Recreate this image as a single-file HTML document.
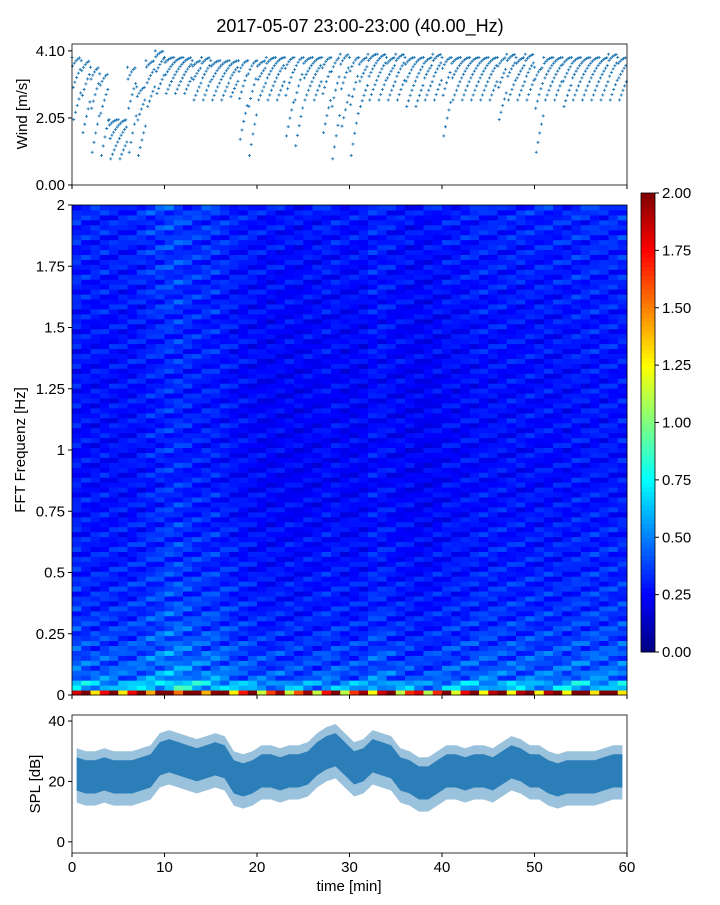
<!DOCTYPE html>
<html><head><meta charset="utf-8">
<style>
body{margin:0;background:#fff;font-family:"Liberation Sans",sans-serif;}
svg text{font-family:"Liberation Sans",sans-serif;fill:#000;}
</style></head>
<body>
<svg id="chart" width="720" height="900">
<text x="360" y="32" font-size="18" text-anchor="middle">2017-05-07 23:00-23:00 (40.00_Hz)</text>
<g id="wind"></g>
<g id="spec"></g>
<g id="cbar"></g>
<g id="spl"></g>
</svg>
<script>
const minutes=[...Array(60).keys()];
const windHi=[3.9,3.8,3.6,3.4,2.0,2.0,3.6,3.0,3.8,4.1,3.9,3.9,3.9,3.8,3.9,3.8,3.8,3.8,3.8,3.8,3.8,3.9,3.9,3.9,3.9,3.9,3.9,3.9,3.9,4.0,3.9,3.9,4.0,4.0,3.9,4.0,3.9,3.9,3.9,4.0,3.9,3.9,3.9,3.9,3.9,3.9,3.9,4.0,3.9,4.0,3.6,3.9,3.9,3.9,3.9,3.9,3.9,3.9,4.0,3.9];
const windLo=[2.0,1.6,1.0,0.9,0.8,0.8,1.0,0.9,2.4,2.8,2.8,2.8,2.8,2.6,2.6,2.6,2.6,2.7,1.4,0.9,2.6,2.6,2.6,1.5,1.2,2.6,2.6,1.6,0.8,1.8,0.9,2.4,2.6,2.6,2.6,2.6,2.4,2.4,2.6,2.6,1.5,2.6,2.6,2.6,2.6,2.6,2.0,2.6,2.6,2.6,1.0,2.6,2.6,2.4,2.6,2.6,2.6,2.6,2.6,2.6];
const splMid=[23,22,22,23,22,22,22,23,24,28,29,28,27,26,27,28,27,22,21,22,24,24,23,24,24,25,28,30,31,28,25,26,29,28,27,23,22,20,20,22,24,24,23,24,24,23,25,27,26,24,24,22,21,22,22,22,22,23,24,24];
const splHi=splMid.map(v=>v+8);
const splLo=splMid.map(v=>v-10);
const freqProfile=[1.75,0.6,0.45,0.42,0.4,0.38,0.36,0.35,0.34,0.33,0.32,0.32,0.31,0.3,0.3,0.3,0.29,0.29,0.28,0.28,0.28,0.27,0.27,0.27,0.27,0.27,0.27,0.27,0.27,0.27,0.27,0.27,0.27,0.27,0.28,0.28,0.28,0.28,0.28,0.29,0.29,0.29,0.3,0.3,0.3,0.3,0.31,0.31,0.31,0.32];
const timeProfile=[1.05,1.0,1.0,1.0,1.0,1.0,1.0,1.05,1.1,1.15,1.2,1.2,1.15,1.1,1.1,1.1,1.05,1.0,0.95,0.95,0.9,0.9,0.9,0.9,0.88,0.9,0.9,0.95,0.95,0.9,0.9,0.9,1.0,1.0,0.95,0.9,0.9,0.85,0.88,0.9,0.95,0.95,0.95,1.0,1.0,1.0,1.0,1.0,1.0,1.0,1.0,1.0,1.0,1.0,1.05,1.05,1.05,1.05,1.05,1.05];
const windTicks=[0,2.05,4.10], specTicks=[0,0.25,0.5,0.75,1,1.25,1.5,1.75,2], cbTicks=[0,0.25,0.5,0.75,1,1.25,1.5,1.75,2], splTicks=[0,20,40], xTicks=[0,10,20,30,40,50,60];

const NS="http://www.w3.org/2000/svg";
function mk(p,t,a){const e=document.createElementNS(NS,t);for(const k in a)e.setAttribute(k,a[k]);p.appendChild(e);return e;}
const X0=72,X1=627;
const xs=m=>X0+(X1-X0)*m/60;
function jet(v){const x=Math.max(0,Math.min(1,v/2));const c=t=>Math.round(255*Math.max(0,Math.min(1,1.5-Math.abs(4*x-t))));return `rgb(${c(3)},${c(2)},${c(1)})`;}
function frame(g,y0,y1,name){const r=mk(g,'rect',{x:X0,y:y0,width:X1-X0,height:y1-y0,fill:'none',stroke:'#000','stroke-width':0.8});}
function yTick(g,y,label,x){mk(g,'line',{x1:x-4,x2:x,y1:y,y2:y,stroke:'#000'});const t=mk(g,'text',{x:x-7,y:y+5,'font-size':15,'text-anchor':'end'});t.textContent=label;}
function xTickMarks(g,y,labels){xTicks.forEach(v=>{mk(g,'line',{x1:xs(v),x2:xs(v),y1:y,y2:y+4,stroke:'#000'});if(labels){const t=mk(g,'text',{x:xs(v),y:y+19,'font-size':15,'text-anchor':'middle'});t.textContent=v;}});}
function yTitle(g,x,y,s){const t=mk(g,'text',{x:x,y:y,'font-size':15,'text-anchor':'middle',transform:`rotate(-90 ${x} ${y})`});t.textContent=s;}

// Wind
const gw=document.getElementById('wind');const WT=44,WB=185,wy=v=>WB-(WB-WT)*v/4.31;
let wd='';
minutes.forEach(m=>{const hi=windHi[m],lo=windLo[m];for(let k=0;k<16;k++){const f=((k*5)%16)/15;const v=hi-(hi-lo)*Math.pow(f,1.8);const x=xs(m+k/16),y=wy(v);wd+=`M${x-1.5},${y}h3M${x},${y-1.5}v3`;}});
const wp=mk(gw,'path',{d:wd,stroke:'#1f77b4','stroke-width':0.9,fill:'none'});


frame(gw,WT,WB,'wind-axes');windTicks.forEach(v=>yTick(gw,wy(v),v.toFixed(2),X0));xTickMarks(gw,WB,false);yTitle(gw,27,114,'Wind [m/s]');

// Spectrogram
const gs=document.getElementById('spec');const ST=205,SB=695,sy=f=>SB-(SB-ST)*f/2;const nb=99,bh=(SB-ST)/nb;
const bandVal=i=>i===0?freqProfile[0]:freqProfile[Math.min(49,1+Math.floor((i-1)/2))];
minutes.forEach(m=>{for(let i=0;i<nb;i++){const base=bandVal(i);const v=base*timeProfile[m]*(i===0?1+0.3*Math.sin(m*2.1):(1+0.35*Math.sin(i*2.3+Math.floor(m/3)*0.7)*Math.cos(i*0.77+m*1.3)));const r=mk(gs,'rect',{x:xs(m),y:SB-(i+1)*bh,width:(X1-X0)/60+0.5,height:bh+0.5,fill:jet(v)});}});
frame(gs,ST,SB,'spectrogram-axes');specTicks.forEach(v=>yTick(gs,sy(v),String(v),X0));xTickMarks(gs,SB,false);yTitle(gs,25,450,'FFT Frequenz [Hz]');

// Colorbar
const gc=document.getElementById('cbar');const CT=193,CB=652,CX=641,CW=14;
for(let i=0;i<100;i++){mk(gc,'rect',{x:CX,y:CB-(i+1)*(CB-CT)/100,width:CW,height:(CB-CT)/100+0.5,fill:jet(2*(i+0.5)/100)});}
mk(gc,'rect',{x:CX,y:CT,width:CW,height:CB-CT,fill:'none',stroke:'#000','stroke-width':0.8});
cbTicks.forEach(v=>{const y=CB-(CB-CT)*v/2;mk(gc,'line',{x1:CX+CW,x2:CX+CW+4,y1:y,y2:y,stroke:'#000'});const t=mk(gc,'text',{x:CX+CW+7,y:y+5,'font-size':15});t.textContent=v.toFixed(2);});

// SPL
const gp=document.getElementById('spl');const PT=715,PB=853,py=v=>PB-(PB-PT)*(v+3.7)/45.7;
function bandPath(hi,lo){let d='M'+minutes.map(m=>`${xs(m+0.5)},${py(hi[m])}`).join('L');d+='L'+minutes.slice().reverse().map(m=>`${xs(m+0.5)},${py(lo[m])}`).join('L')+'Z';return d;}
const band=mk(gp,'path',{d:bandPath(splHi,splLo),fill:'#1f77b4','fill-opacity':0.45});
const core=mk(gp,'path',{d:bandPath(splMid.map(v=>v+5),splMid.map(v=>v-6)),fill:'#1f77b4','fill-opacity':0.9});
frame(gp,PT,PB,'spl-axes');splTicks.forEach(v=>yTick(gp,py(v),String(v),X0));xTickMarks(gp,PB,true);yTitle(gp,40,784,'SPL [dB]');
const xt=mk(gp,'text',{x:349,y:891,'font-size':15,'text-anchor':'middle'});xt.textContent='time [min]';
</script>
</body></html>
